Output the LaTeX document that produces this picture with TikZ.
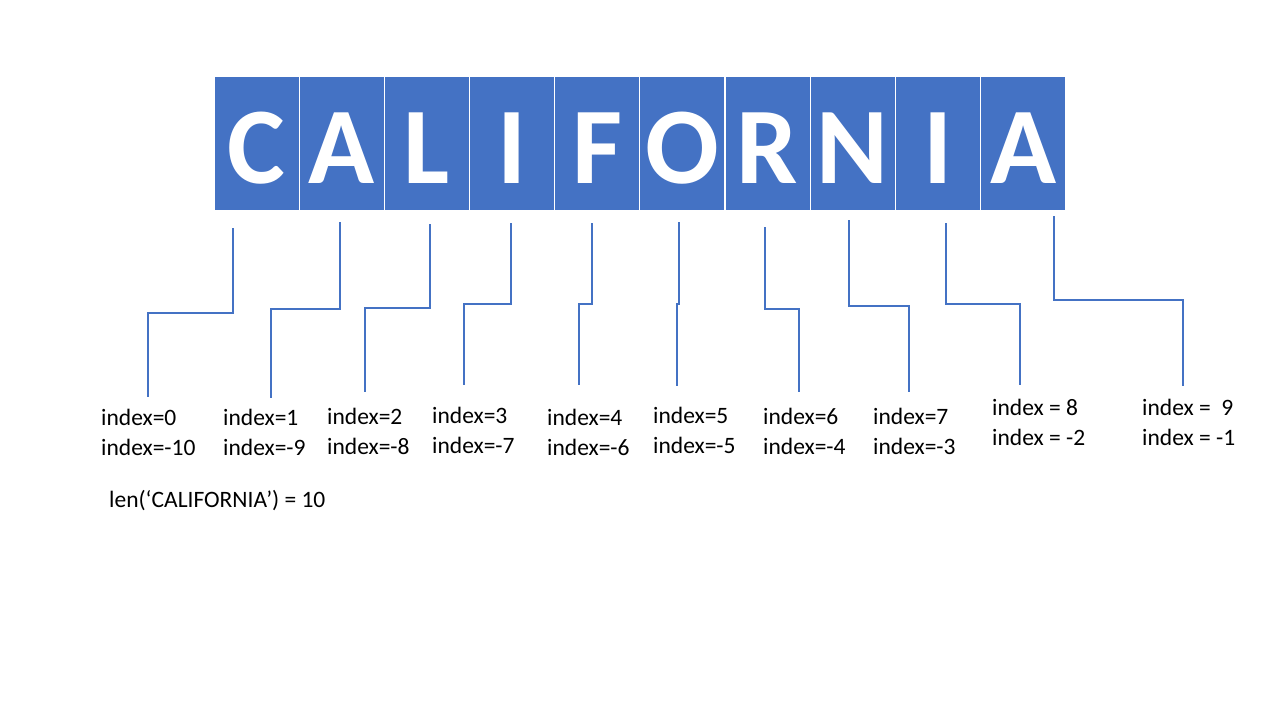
\documentclass[tikz,border=0pt]{standalone}
\usepackage{fontspec}
\setmainfont{Carlito}
\usetikzlibrary{positioning}
\definecolor{boxblue}{HTML}{4472C4}

\tikzset{
  letterbox/.style={draw=white, line width=1.2pt, fill=boxblue, text=white,
    minimum width=85.2pt, minimum height=135pt, inner sep=0pt,
    text height=79pt, text depth=0pt, font=\fontsize{109}{109}\selectfont\bfseries},
  idxlabel/.style={align=left, anchor=base west, inner sep=0pt,
    font=\fontsize{23.5}{29.5}\selectfont},
  conn/.style={draw=boxblue, line width=1.3pt}
}

\begin{document}
\begin{tikzpicture}[x=1pt, y=-1pt]
\useasboundingbox (0,0) rectangle (1280,720);
% the string, one box per character
\foreach \ch [count=\i from 0] in {C,A,L,I,F,O,R,N,I,A}
  \node[letterbox] (c\i) at (256.6+85.17*\i,143.5) {\ch};
% index labels (base = last line)
\foreach \i/\x/\y/\txt in {0/101/455/{index=0\\index=-10},
    1/223/455/{index=1\\index=-9}, 2/327/454/{index=2\\index=-8},
    3/432/453/{index=3\\index=-7}, 4/547/455/{index=4\\index=-6},
    5/653/453/{index=5\\index=-5}, 6/763/454/{index=6\\index=-4},
    7/873/454/{index=7\\index=-3}, 8/992/445/{index = 8\\index = -2},
    9/1142/445/{index =\ \ 9\\index = -1}}
  \node[idxlabel] (l\i) at (\x,\y) {\txt};
\node[idxlabel] (len) at (109,507) {len(‘CALIFORNIA’) = 10};
% connectors: top end, step height, bottom end
\foreach \i/\tx/\ty/\hy/\bx/\by in {0/233/228/313/148/397, 1/340/222/309/271/398,
    2/430/224/308/365/392, 3/511/223/304/464/385, 4/592/223/304/579/385,
    5/679/222/304/677/386, 6/765/227/309/799/392, 7/849/220/306/909/392,
    8/946/223/304/1020/385, 9/1054/216/300/1183/386} {
  \coordinate (t\i) at (\tx,\ty);
  \coordinate (h\i) at (\tx,\hy);
  \coordinate (b\i) at (\bx,\by);
  \draw[conn] (t\i) -- (h\i) -| (b\i);
}
\end{tikzpicture}
\end{document}
